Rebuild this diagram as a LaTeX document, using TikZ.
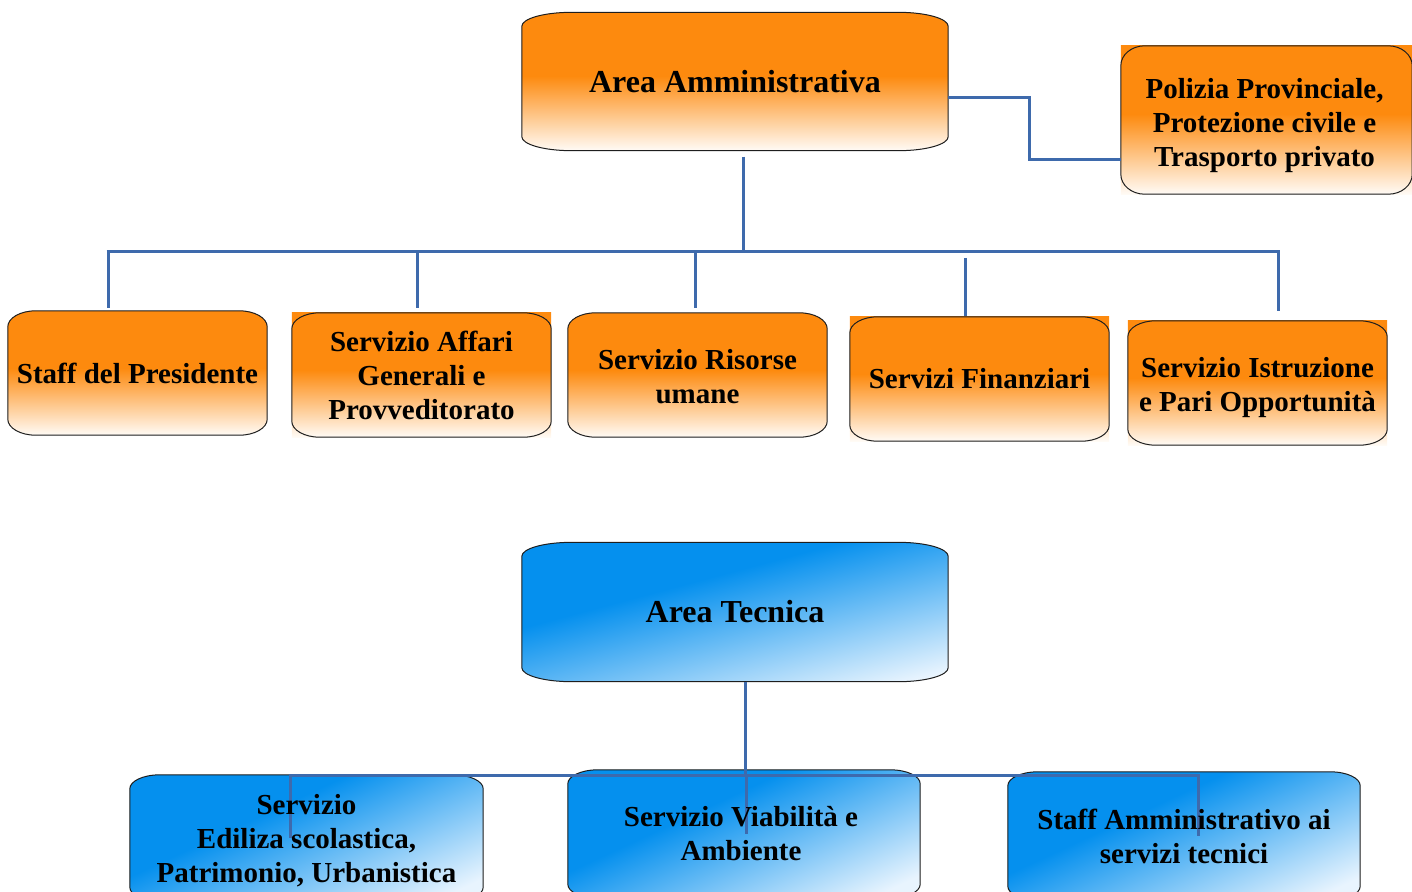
\documentclass[tikz,border=0pt]{standalone}
\usepackage{fontspec}
\setmainfont{Liberation Serif}
\usetikzlibrary{calc}

\pgfdeclarelayer{boxes}
\pgfdeclarelayer{lines}
\pgfsetlayers{boxes,lines,main}

\definecolor{boxorange}{RGB}{253,138,14}
\definecolor{orangelight}{RGB}{255,251,246}
\definecolor{boxblue}{RGB}{5,144,238}
\definecolor{bluelight}{RGB}{232,244,254}
\definecolor{linkblue}{RGB}{62,106,172}
\definecolor{edgegray}{RGB}{30,30,30}

% orange boxes: solid on top, fading to white towards the bottom
\pgfdeclareverticalshading{orangefade}{100bp}{color(0bp)=(orangelight); color(25bp)=(orangelight); color(52bp)=(boxorange); color(100bp)=(boxorange)}
% blue boxes: solid in the upper left, paler towards the lower right
\pgfdeclareverticalshading{bluefade}{100bp}{color(0bp)=(bluelight); color(22bp)=(bluelight); color(60bp)=(boxblue); color(100bp)=(boxblue)}

% rectangle with elliptical corners around a named node
\newcommand\roundbox[3]{($(#1.south west)+(#2,0)$) -- ($(#1.south east)+(-#2,0)$)
  arc[start angle=-90,end angle=0,x radius=#2,y radius=#3]
  -- ($(#1.north east)+(0,-#3)$)
  arc[start angle=0,end angle=90,x radius=#2,y radius=#3]
  -- ($(#1.north west)+(#2,0)$)
  arc[start angle=90,end angle=180,x radius=#2,y radius=#3]
  -- ($(#1.south west)+(0,#3)$)
  arc[start angle=180,end angle=270,x radius=#2,y radius=#3] -- cycle}

\tikzset{
  unit/.style={inner sep=0pt, align=center, text=black,
    font=\fontsize{29}{34}\selectfont\bfseries},
  title/.style={unit, font=\fontsize{32}{38}\selectfont\bfseries},
  outline/.style={draw=edgegray, line width=1pt},
  link/.style={draw=linkblue, line width=3pt},
}

\begin{document}
\begin{tikzpicture}[x=1pt,y=-1pt]
\useasboundingbox (0,0) rectangle (1412,891);

% ---- administrative area ----
\node[title, minimum width=426pt, minimum height=138pt] (aa) at (735,81.5) {Area Amministrativa};
\node[unit, minimum width=291pt, minimum height=148pt,
  label={[unit,yshift=-6pt,xshift=-2pt]center:{Polizia Provinciale,\\Protezione civile e\\Trasporto privato}}]
  (pol) at (1266.5,120) {};
\node[unit, minimum width=259pt, minimum height=124pt] (staff) at (137.5,373) {Staff del Presidente};
\node[unit, minimum width=259pt, minimum height=124pt] (aff) at (421.5,375)
  {Servizio Affari\\Generali e\\Provveditorato};
\node[unit, minimum width=259pt, minimum height=124pt,
  label={[unit,yshift=-2pt]center:{Servizio Risorse\\umane}}] (ris) at (697.5,375) {};
\node[unit, minimum width=259pt, minimum height=124pt] (fin) at (979.5,379) {Servizi Finanziari};
\node[unit, minimum width=259pt, minimum height=124pt,
  label={[unit,yshift=-5pt]center:{Servizio Istruzione\\e Pari Opportunità}}] (ist) at (1257.5,383) {};

% ---- technical area ----
\node[title, minimum width=426pt, minimum height=139pt] (at) at (735,612) {Area Tecnica};
\node[unit, minimum width=353pt, minimum height=126pt,
  label={[unit,yshift=-2.5pt]center:{Servizio\\Ediliza scolastica,\\Patrimonio, Urbanistica}}]
  (edi) at (306.5,838) {};
\node[unit, minimum width=352pt, minimum height=128pt,
  label={[unit,xshift=-3pt]center:{Servizio Viabilità e\\Ambiente}}] (via) at (744,834) {};
\node[unit, minimum width=352pt, minimum height=128pt] (sam) at (1184,836)
  {Staff Amministrativo ai\\servizi tecnici};

\begin{pgfonlayer}{boxes}
  % boxes whose fill follows the rounded outline
  \shade[shading=orangefade] \roundbox{aa}{50pt}{14pt};
  \draw[outline] \roundbox{aa}{50pt}{14pt};
  \foreach \n in {staff,ris}{
    \shade[shading=orangefade] \roundbox{\n}{28pt}{16pt};
    \draw[outline] \roundbox{\n}{28pt}{16pt};
  }
  % boxes whose fill is a plain rectangle behind the rounded outline
  \foreach \n in {aff,fin,ist}{
    \shade[shading=orangefade] (\n.south west) rectangle (\n.north east);
    \draw[outline] \roundbox{\n}{28pt}{16pt};
  }
  \shade[shading=orangefade] (pol.south west) rectangle (pol.north east);
  \draw[outline] \roundbox{pol}{24pt}{20pt};
  % blue boxes
  \shade[shading=bluefade, shading angle=15] \roundbox{at}{50pt}{14pt};
  \draw[outline] \roundbox{at}{50pt}{14pt};
  \foreach \n in {edi,via,sam}{
    \shade[shading=bluefade, shading angle=25] \roundbox{\n}{30pt}{14pt};
    \draw[outline] \roundbox{\n}{30pt}{14pt};
  }
\end{pgfonlayer}

\begin{pgfonlayer}{lines}
  % administrative area tree
  \coordinate (busL) at (108,251);
  \coordinate (busR) at (1278,251);
  \draw[link] ([xshift=8pt,yshift=-6pt]aa.south) -- ([xshift=8pt]aa.south |- busL);
  \draw[link] ([xshift=-1.5pt]busL) -- ([xshift=1.5pt]busR);
  \draw[link] (busL) -- ([yshift=3pt]busL |- staff.north);
  \draw[link] ([xshift=-4.5pt]aff.north |- busL) -- ([xshift=-4.5pt,yshift=5pt]aff.north);
  \draw[link] ([xshift=-2.5pt]ris.north |- busL) -- ([xshift=-2.5pt,yshift=5pt]ris.north);
  \draw[link] ([xshift=-14.5pt,yshift=59pt]fin.north) -- ([xshift=-14.5pt,yshift=1pt]fin.north);
  \draw[link] (busR) -- ([yshift=10pt]busR |- ist.north);
  \draw[link] ([yshift=-16pt]aa.east) -- ++(81pt,0) |- ([yshift=-39pt]pol.west);
  % technical area tree
  \coordinate (tL) at (290,775);
  \coordinate (tR) at (1198,775);
  \draw[link] ([xshift=10pt]at.south) -- ([xshift=10pt]at.south |- tL);
  \draw[link] ([xshift=-1.5pt]tL) -- ([xshift=1.5pt]tR);
  \draw[link] (tL) -- (tL |- edi.center);
  \draw[link] ([xshift=2pt]via.north |- tL) -- ([xshift=2pt]via.center);
  \draw[link] (tR) -- (tR |- sam.center);
\end{pgfonlayer}
\end{tikzpicture}
\end{document}
